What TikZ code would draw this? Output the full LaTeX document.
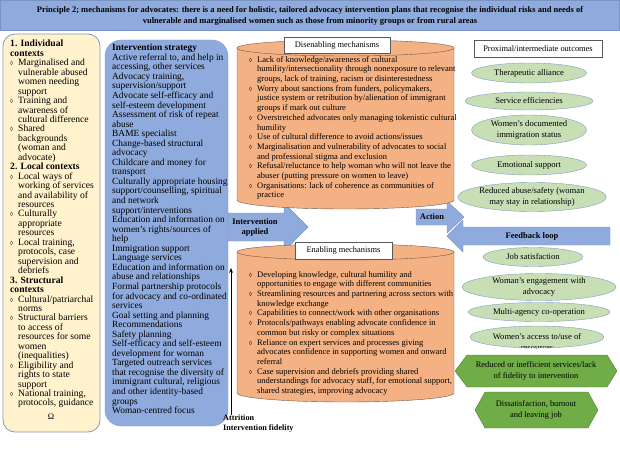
\documentclass[tikz,border=0pt]{standalone}
\usepackage{fontspec}
\setmainfont{Liberation Serif}
\usepackage{tikz}
\usetikzlibrary{positioning,arrows.meta,shapes.geometric,calc}

\definecolor{titleblue}{HTML}{8FAADC}
\definecolor{titleedge}{HTML}{7A93C0}
\definecolor{ctxyellow}{HTML}{FFF2CC}
\definecolor{ctxedge}{HTML}{8099BD}
\definecolor{stratblue}{HTML}{8FAADC}
\definecolor{stratedge}{HTML}{7F9BD0}
\definecolor{drumorange}{HTML}{F4B183}
\definecolor{drumedge}{HTML}{6E5B4E}
\definecolor{ovalgreen}{HTML}{C8DFB5}
\definecolor{ovaledge}{HTML}{7F9DBF}
\definecolor{hexgreen}{HTML}{70AD47}
\definecolor{hexedge}{HTML}{507E32}

\newcommand{\bul}{\makebox[8pt][l]{\fontsize{6}{6}\selectfont ◊}}
\newcommand{\cont}{\hspace*{8pt}}

\tikzset{
  titlebar/.style={draw=titleedge, fill=titleblue, align=center, inner sep=0pt,
    font=\bfseries\fontsize{8.5}{11}\selectfont},
  ctxbox/.style={draw=ctxedge, fill=ctxyellow, rounded corners=12pt, line width=0.8pt},
  stratbox/.style={draw=stratedge, fill=stratblue, rounded corners=16pt},
  bodytext/.style={align=left, inner sep=0pt, anchor=north west},
  blockarrow/.style={draw=titleedge, fill=titleblue},
  arrowlabel/.style={font=\bfseries\fontsize{8.5}{10}\selectfont, align=center, inner sep=0pt},
  drum/.style={draw=drumedge, fill=drumorange},
  mechlabel/.style={draw=gray!70!black, fill=white, inner sep=0pt,
    font=\fontsize{8.4}{10}\selectfont},
  outcome/.style={ellipse, draw=ovaledge, fill=ovalgreen, inner sep=0pt, align=center,
    font=\fontsize{8.6}{10.5}\selectfont},
  harm/.style={draw=hexedge, fill=hexgreen},
  harmtext/.style={align=center, inner sep=0pt, font=\fontsize{8.4}{10.5}\selectfont}
}

% cylinder: left x, right x, top y, bottom y
\newcommand{\mechdrum}[4]{%
  \pgfmathsetmacro{\drumrx}{(#2-#1)/2}
  \pgfmathsetmacro{\drumcx}{(#1+#2)/2}
  \filldraw[drum] (#1,#3) -- (#1,#4) arc[start angle=180, end angle=0, x radius=\drumrx, y radius=9] -- (#2,#3) -- cycle;
  \filldraw[drum] (\drumcx,#3) ellipse[x radius=\drumrx, y radius=8];
}

\begin{document}
\begin{tikzpicture}[x=1pt, y=-1pt, >=Stealth]
    \useasboundingbox (0,0) rectangle (620,449);

    % Heading
    \node[titlebar, minimum width=619, minimum height=30, anchor=north] (principle) at (310,0.5)
      {Principle 2; mechanisms for advocates: there is a need for holistic, tailored advocacy intervention plans that recognise the individual risks and needs of\\
       vulnerable and marginalised women such as those from minority groups or from rural areas};

    % Contexts
    \draw[ctxbox] (3,34) rectangle (100,432);
    \node[bodytext, font=\fontsize{9.6}{9.45}\selectfont] (contexts) at (10,40) {%
      {\bfseries 1. Individual}\\
      {\bfseries contexts}\\
      \bul Marginalised and\\
      \cont vulnerable abused\\
      \cont women needing\\
      \cont support\\
      \bul Training and\\
      \cont awareness of\\
      \cont cultural difference\\
      \bul Shared\\
      \cont backgrounds\\
      \cont (woman and\\
      \cont advocate)\\
      {\bfseries 2. Local contexts}\\
      \bul Local ways of\\
      \cont working of services\\
      \cont and availability of\\
      \cont resources\\
      \bul Culturally\\
      \cont appropriate\\
      \cont resources\\
      \bul Local training,\\
      \cont protocols, case\\
      \cont supervision and\\
      \cont debriefs\\
      {\bfseries 3. Structural}\\
      {\bfseries contexts}\\
      \bul Cultural/patriarchal\\
      \cont norms\\
      \bul Structural barriers\\
      \cont to access of\\
      \cont resources for some\\
      \cont women\\
      \cont (inequalities)\\
      \bul Eligibility and\\
      \cont rights to state\\
      \cont support\\
      \bul National training,\\
      \cont protocols, guidance};
    \node[font=\fontsize{8.5}{9}\selectfont, inner sep=0pt] (omega) at (51,417) {Ω};

    % Intervention strategy
    \draw[stratbox] (105,40) rectangle (228,426);
    \node[bodytext, font=\fontsize{9.4}{9.55}\selectfont] (strategy) at (112,44) {%
      {\bfseries Intervention strategy}\\
      Active referral to, and help in\\
      accessing, other services\\
      Advocacy training,\\
      supervision/support\\
      Advocate self-efficacy and\\
      self-esteem development\\
      Assessment of risk of repeat\\
      abuse\\
      BAME specialist\\
      Change-based structural\\
      advocacy\\
      Childcare and money for\\
      transport\\
      Culturally appropriate housing\\
      support/counselling, spiritual\\
      and network\\
      support/interventions\\
      Education and information on\\
      women's rights/sources of\\
      help\\
      Immigration support\\
      Language services\\
      Education and information on\\
      abuse and relationships\\
      Formal partnership protocols\\
      for advocacy and co-ordinated\\
      services\\
      Goal setting and planning\\
      Recommendations\\
      Safety planning\\
      Self-efficacy and self-esteem\\
      development for woman\\
      Targeted outreach services\\
      that recognise the diversity of\\
      immigrant cultural, religious\\
      and other identity-based\\
      groups\\
      Woman-centred focus};

    % Block arrows
    \filldraw[blockarrow] (228,213) -- (284,213) -- (284,203) -- (308,227) -- (284,251) -- (284,241) -- (228,241) -- cycle;
    \node[arrowlabel] (applied) at (255,227) {Intervention\\applied};
    \filldraw[blockarrow] (416,209) -- (447,209) -- (447,201) -- (464,217) -- (447,233) -- (447,225) -- (416,225) -- cycle;
    \node[arrowlabel] (action) at (432,217) {Action};

    % Mechanisms
    \mechdrum{237}{454}{48}{200}
    \node[mechlabel, minimum width=106, minimum height=16] (disenlabel) at (337,45) {Disenabling mechanisms};
    \node[bodytext, font=\fontsize{8.5}{9.7}\selectfont] (disenabling) at (249,56) {%
      \bul Lack of knowledge/awareness of cultural\\
      \cont humility/intersectionality through nonexposure to relevant\\
      \cont groups, lack of training, racism or disinterestedness\\
      \bul Worry about sanctions from funders, policymakers,\\
      \cont justice system or retribution by/alienation of immigrant\\
      \cont groups if mark out culture\\
      \bul Overstretched advocates only managing tokenistic cultural\\
      \cont humility\\
      \bul Use of cultural difference to avoid actions/issues\\
      \bul Marginalisation and vulnerability of advocates to social\\
      \cont and professional stigma and exclusion\\
      \bul Refusal/reluctance to help woman who will not leave the\\
      \cont abuser (putting pressure on women to leave)\\
      \bul Organisations: lack of coherence as communities of\\
      \cont practice};

    \mechdrum{237}{454}{252}{393}
    \node[mechlabel, minimum width=97, minimum height=17] (enlabel) at (343.5,250.5) {Enabling mechanisms};
    \node[bodytext, font=\fontsize{8.5}{9.7}\selectfont] (enabling) at (249,271) {%
      \bul Developing knowledge, cultural humility and\\
      \cont opportunities to engage with different communities\\
      \bul Streamlining resources and partnering across sectors with\\
      \cont knowledge exchange\\
      \bul Capabilities to connect/work with other organisations\\
      \bul Protocols/pathways enabling advocate confidence in\\
      \cont common but risky or complex situations\\
      \bul Reliance on expert services and processes giving\\
      \cont advocates confidence in supporting women and onward\\
      \cont referral\\
      \bul Case supervision and debriefs providing shared\\
      \cont understandings for advocacy staff, for emotional support,\\
      \cont shared strategies, improving advocacy};

    % Feedback loop
    \filldraw[blockarrow] (610,227) -- (463,227) -- (463,220) -- (447,236) -- (463,252) -- (463,245) -- (610,245) -- cycle;
    \node[arrowlabel] (feedback) at (532,236) {Feedback loop};

    % Attrition
    \node[bodytext, font=\bfseries\fontsize{8.2}{9.8}\selectfont] (attrition) at (223,415) {Attrition\\Intervention fidelity};
    \coordinate (fidtop) at (231,268);
    \draw[->] (fidtop |- attrition.north) -- (fidtop);

    % Outcomes
    \node[mechlabel, minimum width=128, minimum height=17] (proximal) at (538,49) {Proximal/intermediate outcomes};
    \node[outcome, minimum width=115, minimum height=20] (alliance) at (529,73) {Therapeutic alliance};
    \node[outcome, minimum width=128, minimum height=18] (efficiency) at (529,101) {Service efficiencies};
    \node[outcome, minimum width=115, minimum height=30] (immigration) at (529,130) {Women's documented\\immigration status};
    \node[outcome, minimum width=115, minimum height=20] (emotional) at (529,165) {Emotional support};
    \node[outcome, minimum width=148, minimum height=29] (safety) at (532,197) {Reduced abuse/safety (woman\\may stay in relationship)};
    \node[outcome, minimum width=100, minimum height=19] (jobsat) at (533,257) {Job satisfaction};
    \node[outcome, minimum width=154, minimum height=27] (engagement) at (539,287) {Woman's engagement with\\advocacy};
    \node[outcome, minimum width=142, minimum height=19] (multiagency) at (539,312) {Multi-agency co-operation};
    \node[outcome, minimum width=134, minimum height=22,
      path picture={\node[align=center, font=\fontsize{8.6}{10.5}\selectfont, yshift=-5.2pt]
        at (path picture bounding box.center) {Women's access to/use of\\resources};}] (access) at (537,337) {};

    % Harms
    \filldraw[harm] (455,371) -- (467,355) -- (607,355) -- (617,371) -- (607,387) -- (467,387) -- cycle;
    \node[harmtext] (inefficient) at (536,371) {Reduced or inefficient services/lack\\of fidelity to intervention};
    \filldraw[harm] (475,410) -- (485,392) -- (588,392) -- (598,410) -- (588,428) -- (485,428) -- cycle;
    \node[harmtext] (burnout) at (536,410) {Dissatisfaction, burnout\\and leaving job};
\end{tikzpicture}
\end{document}
